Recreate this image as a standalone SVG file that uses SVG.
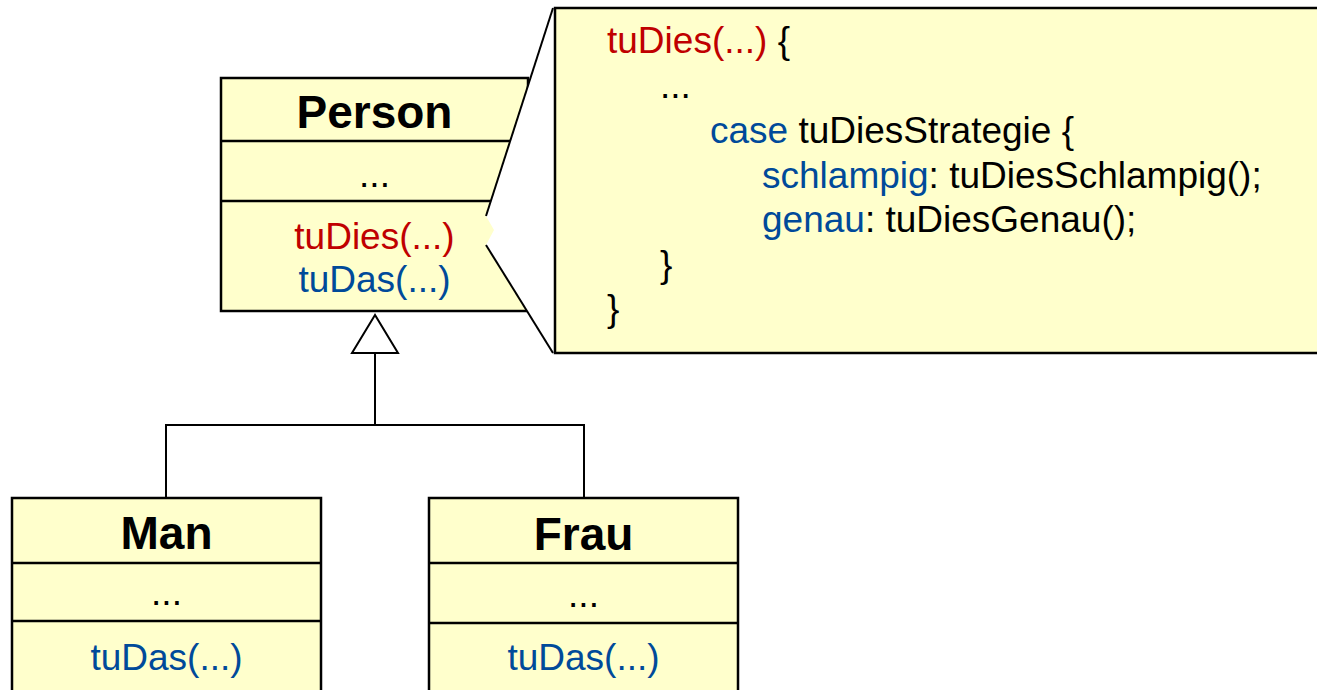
<svg xmlns="http://www.w3.org/2000/svg" width="1317" height="690" viewBox="0 0 1317 690">
  <style>
    text { font-family: "Liberation Sans", Arial, sans-serif; font-size: 37px; }
    .title { font-weight: bold; font-size: 46px; text-anchor: middle; fill: #000; }
    .mid { text-anchor: middle; }
    .box { fill: #FFFFCC; stroke: #000; stroke-width: 2.5; }
    .sep { stroke: #000; stroke-width: 2.5; }
    .conn { fill: none; stroke: #000; stroke-width: 2; }
    .red { fill: #C00000; }
    .blue { fill: #004A9A; }
    .black { fill: #000; }
  </style>

  <rect width="1317" height="690" fill="#FFFFFF"/>

  <!-- Person class -->
  <g id="person">
    <rect class="box" x="221" y="78" width="307" height="233"/>
    <line class="sep" x1="221" y1="141" x2="528" y2="141"/>
    <line class="sep" x1="221" y1="201" x2="528" y2="201"/>
    <text class="title" x="374.5" y="128">Person</text>
    <text class="mid black" x="374.5" y="187">...</text>
    <text class="mid red" x="374.5" y="249">tuDies(...)</text>
    <text class="mid blue" x="374.5" y="292">tuDas(...)</text>
  </g>

  <!-- Note with implementation of tuDies -->
  <g id="note">
    <polygon points="553,8 486,216 494,230 486,245 553,353 560,353 560,8" fill="#FFFFFF"/>
    <line class="conn" x1="553" y1="8" x2="486" y2="216"/>
    <line class="conn" x1="486" y1="245" x2="553" y2="353"/>
    <rect class="box" x="555" y="8" width="764" height="345"/>
    <text x="607" y="53"><tspan class="red">tuDies(...)</tspan><tspan class="black"> {</tspan></text>
    <text class="black" x="660" y="98">...</text>
    <text x="710" y="143"><tspan class="blue">case</tspan><tspan class="black"> tuDiesStrategie {</tspan></text>
    <text x="762" y="188"><tspan class="blue">schlampig</tspan><tspan class="black">: tuDiesSchlampig();</tspan></text>
    <text x="762" y="232"><tspan class="blue">genau</tspan><tspan class="black">: tuDiesGenau();</tspan></text>
    <text class="black" x="660" y="277">}</text>
    <text class="black" x="607" y="321">}</text>
  </g>

  <!-- Generalization connectors -->
  <g id="connectors">
    <polyline class="conn" points="375,353 375,425"/>
    <polyline class="conn" points="166,498 166,425 584,425 584,498"/>
    <polygon points="375,315 352,353 398,353" fill="#FFFFFF" stroke="#000" stroke-width="2"/>
  </g>

  <!-- Man class -->
  <g id="man">
    <rect class="box" x="12" y="498" width="309" height="200"/>
    <line class="sep" x1="12" y1="563" x2="321" y2="563"/>
    <line class="sep" x1="12" y1="621" x2="321" y2="621"/>
    <text class="title" x="166.5" y="549">Man</text>
    <text class="mid black" x="166.5" y="605">...</text>
    <text class="mid blue" x="166.5" y="670">tuDas(...)</text>
  </g>

  <!-- Frau class -->
  <g id="frau">
    <rect class="box" x="429" y="498" width="309" height="200"/>
    <line class="sep" x1="429" y1="563" x2="738" y2="563"/>
    <line class="sep" x1="429" y1="623" x2="738" y2="623" stroke-width="3"/>
    <text class="title" x="583.5" y="550">Frau</text>
    <text class="mid black" x="583.5" y="607">...</text>
    <text class="mid blue" x="583.5" y="670">tuDas(...)</text>
  </g>
</svg>
